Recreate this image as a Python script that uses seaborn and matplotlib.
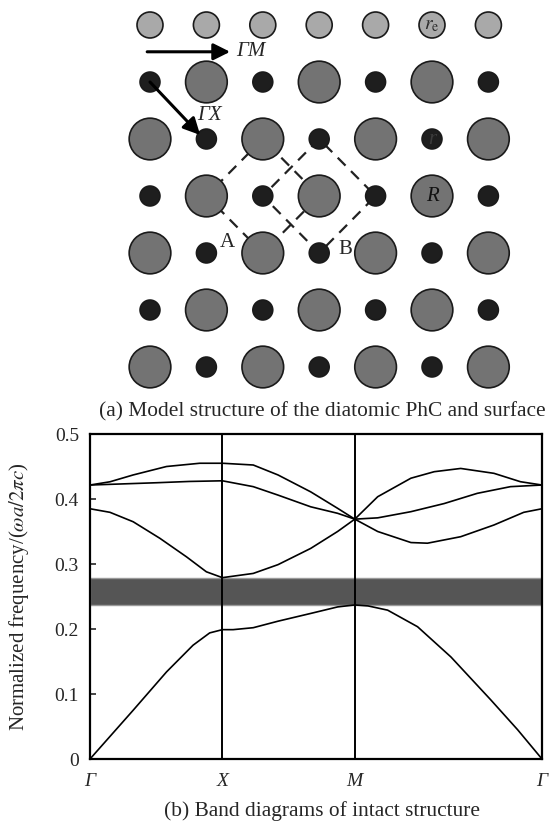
import numpy as np
import pandas as pd
import seaborn as sns
import matplotlib.pyplot as plt

# ---- (a) lattice: e = small light rod, B = big rod, s = small dark rod
lattice_rows = ["eeeeeee",
                "sBsBsBs",
                "BsBsBsB",
                "sBsBsBs",
                "BsBsBsB",
                "sBsBsBs",
                "BsBsBsB"]
kind_colors = {"e": "#a9a9a9", "B": "#737373", "s": "#1e1e1e"}
kind_sizes = {"e": 350, "B": 900, "s": 205}

# dashed unit cells A and B (col, -row)
cell_a_x = [2, 1, 2, 3, 2]
cell_a_y = [-2, -3, -4, -3, -2]
cell_b_x = [3, 2, 3, 4, 3]
cell_b_y = [-2, -3, -4, -3, -2]

# ---- (b) band diagram, k: Gamma=0, X=1, M=2, Gamma=2+sqrt2
k_ticks = [0, 1, 2, 3.414]
k_labels = ["Γ", "X", "M", "Γ"]
gap = (0.237, 0.2785)

band1_k = [0, 0.326, 0.578, 0.778, 0.904, 1.0, 1.081, 1.233, 1.42, 1.668, 1.871, 2.0, 2.1,
           2.248, 2.474, 2.726, 3.027, 3.23, 3.414]
band1_f = [0, 0.075, 0.134, 0.175, 0.194, 0.199, 0.199, 0.202, 0.212, 0.224, 0.234, 0.237, 0.2355,
           0.229, 0.2035, 0.157, 0.091, 0.045, 0]
band2_k = [0, 0.151, 0.326, 0.528, 0.729, 0.879, 1.0, 1.233, 1.42, 1.667, 1.87, 2.0,
           2.173, 2.424, 2.549, 2.80, 3.051, 3.276, 3.414]
band2_f = [0.385, 0.3795, 0.365, 0.3395, 0.311, 0.288, 0.279, 0.2855, 0.299, 0.324, 0.350, 0.369,
           0.35, 0.333, 0.332, 0.342, 0.36, 0.3795, 0.385]
band3_k = [0, 0.5, 0.75, 1.0, 1.233, 1.42, 1.667, 1.87, 2.0, 2.173, 2.424, 2.675, 2.925, 3.176, 3.414]
band3_f = [0.4215, 0.425, 0.427, 0.428, 0.419, 0.406, 0.388, 0.378, 0.369, 0.371, 0.3805, 0.393,
           0.4087, 0.419, 0.4215]
band4_k = [0, 0.151, 0.326, 0.578, 0.829, 1.0, 1.233, 1.42, 1.667, 1.87, 2.0, 2.173, 2.424,
           2.60, 2.80, 3.051, 3.251, 3.414]
band4_f = [0.4215, 0.4265, 0.437, 0.45, 0.455, 0.455, 0.4523, 0.437, 0.411, 0.3857, 0.369, 0.4035,
           0.432, 0.442, 0.447, 0.4395, 0.4266, 0.4215]
bands = [(band1_k, band1_f), (band2_k, band2_f), (band3_k, band3_f), (band4_k, band4_f)]

sns.set_style("white")
plt.rcParams["font.family"] = ["Liberation Serif", "DejaVu Serif"]
plt.rcParams["mathtext.fontset"] = "stix"

W, H = 557, 822
fig = plt.figure(figsize=(W / 100, H / 100), dpi=100)

# ---------------- top panel
ax1 = fig.add_axes([0, 1 - 395 / H, 1, 395 / H])
dx, dy = 56.4, 57.0  # pixels per lattice step
ax1.axis("off")

pts = pd.DataFrame([(c, -r, kd) for r, row in enumerate(lattice_rows) for c, kd in enumerate(row)],
                   columns=["col", "row", "kind"])

for cx, cy in [(cell_a_x, cell_a_y), (cell_b_x, cell_b_y)]:
    sns.lineplot(x=cx, y=cy, sort=False, estimator=None, color="#222222", lw=1.6,
                 linestyle=(0, (5, 3.5)), ax=ax1, zorder=1)

sns.scatterplot(data=pts, x="col", y="row", hue="kind", size="kind", palette=kind_colors,
                sizes=kind_sizes, edgecolor="#1a1a1a", linewidth=1.2, legend=False, ax=ax1, zorder=3)
ax1.set_xlim(-150 / dx, (W - 150) / dx)
ax1.set_ylim(-(395 - 25) / dy, 25 / dy)

arrow_kw = dict(arrowstyle="-|>,head_length=0.5,head_width=0.25", color="black", lw=2.2,
                mutation_scale=20, shrinkA=0, shrinkB=0)
ax1.annotate("", xy=(1.42, -0.47), xytext=(-0.05, -0.47), arrowprops=arrow_kw, zorder=5)
ax1.annotate("", xy=(0.89, -1.93), xytext=(0.0, -1.0), arrowprops=arrow_kw, zorder=5)
ax1.text(1.53, -0.47, "ΓM", fontsize=15, style="italic", va="center", ha="left")
ax1.text(0.83, -1.58, "ΓX", fontsize=15, style="italic", va="center", ha="left")
ax1.text(5, 0, r"$r_\mathrm{e}$", fontsize=14, ha="center", va="center", color="#2a2a2a", zorder=6)
ax1.text(5, -2, "r", fontsize=15, style="italic", ha="center", va="center", color="#3c3c3c", zorder=6)
ax1.text(5, -3, "R", fontsize=15, style="italic", ha="center", va="center", color="#111111", zorder=6)
ax1.text(1.365, -3.81, "A", fontsize=15, ha="center", va="center", zorder=6)
ax1.text(3.457, -3.93, "B", fontsize=15, ha="center", va="center", zorder=6)

fig.text(322 / W, 1 - 412 / H, "(a) Model structure of the diatomic PhC and surface",
         fontsize=15.4, ha="center", va="center")

# ---------------- band diagram
ax2 = fig.add_axes([90 / W, 1 - 759 / H, 452 / W, 325 / H])
ax2.axhspan(gap[0], gap[1], facecolor="#555555", edgecolor="#9a9a9a", lw=1, zorder=0)
for kk in k_ticks[1:3]:
    ax2.axvline(kk, color="black", lw=1.4, zorder=1)
for bk, bf in bands:
    sns.lineplot(x=bk, y=bf, sort=False, estimator=None, color="black", lw=1.2, ax=ax2, zorder=2)

ax2.set_xlim(k_ticks[0], k_ticks[-1])
ax2.set_ylim(0, 0.5)
ax2.set_xticks(k_ticks)
ax2.set_xticklabels(k_labels, fontsize=14, style="italic")
ax2.set_yticks([0, 0.1, 0.2, 0.3, 0.4, 0.5])
ax2.set_yticklabels(["0", "0.1", "0.2", "0.3", "0.4", "0.5"], fontsize=14)
ax2.tick_params(axis="x", length=0, pad=10)
ax2.tick_params(axis="y", direction="in", length=4, width=1.2, pad=8, left=True)
for sp in ax2.spines.values():
    sp.set_visible(True)
    sp.set_color("black")
    sp.set_linewidth(1.6)
ax2.set_ylabel(r"Normalized frequency/($\omega a/2\pi c$)", fontsize=15)
ax2.yaxis.set_label_coords(-(90 - 31) / 452, 0.5)

fig.text(322 / W, 1 - 811 / H, "(b) Band diagrams of intact structure",
         fontsize=15.4, ha="center", va="center")

fig.savefig("out.png", dpi=100)
